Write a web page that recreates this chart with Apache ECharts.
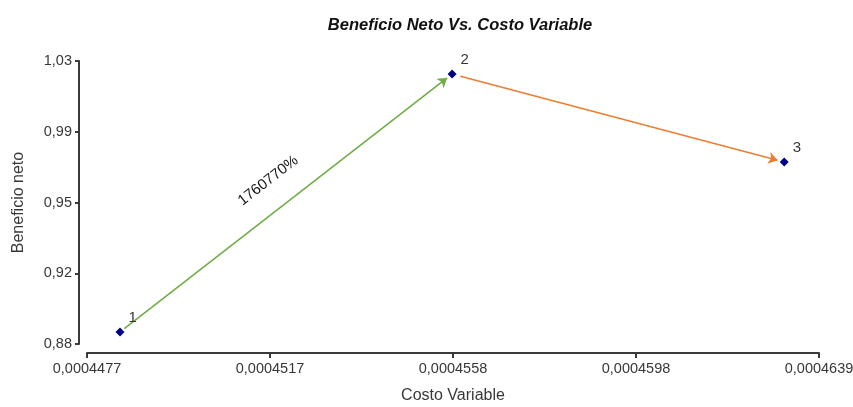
<!DOCTYPE html>
<html><head><meta charset="utf-8">
<script src="https://cdn.jsdelivr.net/npm/echarts@6/dist/echarts.min.js"></script>
<style>html,body{margin:0;padding:0;background:#fff}#c{width:853px;height:407px}</style>
</head><body><div id="c"></div>
<script>
const pointLabels = ['1', '2', '3'];
const costoVariable = [0.00044843, 0.00045578, 0.00046313];
const beneficioNeto = [0.8864, 1.0231, 0.9765];
const arrowLabels = ['1760770%', ''];
const arrowColors = ['#70AD47', '#ED7D31'];
const xTickValues = [0.0004477, 0.00045175, 0.0004558, 0.00045985, 0.0004639];
const xTickLabels = ['0,0004477', '0,0004517', '0,0004558', '0,0004598', '0,0004639'];
const yTickValues = [0.88, 0.9175, 0.955, 0.9925, 1.03];
const yTickLabels = ['0,88', '0,92', '0,95', '0,99', '1,03'];

function nearestLabel(v, vals, labels) {
  let best = 0, bd = Infinity;
  vals.forEach((t, i) => { const d = Math.abs(t - v); if (d < bd) { bd = d; best = i; } });
  return labels[best];
}

// arrow segments between consecutive points, trimmed slightly at both ends
const gapStart = [0.013, 0.025], gapEnd = [0.015, 0.02];
const arrowData = [];
for (let i = 0; i < costoVariable.length - 1; i++) {
  const x0 = costoVariable[i], y0 = beneficioNeto[i], x1 = costoVariable[i + 1], y1 = beneficioNeto[i + 1];
  const a = gapStart[i], b = 1 - gapEnd[i];
  arrowData.push({
    coords: [[x0 + (x1 - x0) * a, y0 + (y1 - y0) * a], [x0 + (x1 - x0) * b, y0 + (y1 - y0) * b]],
    lineStyle: { color: arrowColors[i] }
  });
}

const axisColor = '#3a3a3a';
const textColor = '#383838';
const font = 'Liberation Sans, Arial, sans-serif';
const chart = echarts.init(document.getElementById('c'));
chart.setOption({
  backgroundColor: '#fff',
  animation: false,
  title: {
    text: 'Beneficio Neto Vs. Costo Variable',
    left: 455, top: 12, textAlign: 'center',
    textStyle: { fontFamily: font, fontSize: 16.5, fontWeight: 'bold', fontStyle: 'italic', color: '#111' }
  },
  grid: { left: 87, right: 34, top: 61, bottom: 63, containLabel: false, outerBoundsMode: 'none' },
  xAxis: {
    type: 'value',
    min: xTickValues[0], max: xTickValues[xTickValues.length - 1],
    offset: 9,
    name: 'Costo Variable', nameLocation: 'middle', nameGap: 35,
    nameTextStyle: { fontFamily: font, fontSize: 16, color: textColor },
    axisLine: { show: true, lineStyle: { color: axisColor, width: 2 } },
    axisTick: { show: true, customValues: xTickValues, length: 5, lineStyle: { color: axisColor, width: 2 } },
    axisLabel: {
      customValues: xTickValues, margin: 8, fontFamily: font, fontSize: 14.5, color: textColor,
      formatter: v => nearestLabel(v, xTickValues, xTickLabels)
    },
    splitLine: { show: false }
  },
  yAxis: {
    type: 'value',
    min: yTickValues[0], max: yTickValues[yTickValues.length - 1],
    offset: 8,
    name: 'Beneficio neto', nameLocation: 'middle', nameGap: 52,
    nameTextStyle: { fontFamily: font, fontSize: 16, color: textColor },
    axisLine: { show: true, lineStyle: { color: axisColor, width: 2 } },
    axisTick: { show: true, customValues: yTickValues, length: 4, lineStyle: { color: axisColor, width: 2 } },
    axisLabel: {
      customValues: yTickValues, margin: 7, fontFamily: font, fontSize: 14.5, color: textColor,
      formatter: v => nearestLabel(v, yTickValues, yTickLabels)
    },
    splitLine: { show: false }
  },
  series: [
    {
      type: 'lines',
      coordinateSystem: 'cartesian2d',
      symbol: ['none', 'arrow'],
      symbolSize: 9,
      lineStyle: { width: 1.6, opacity: 1 },
      label: {
        show: true, position: 'middle', distance: 21,
        fontFamily: font, fontSize: 15, color: '#111',
        formatter: p => arrowLabels[p.dataIndex]
      },
      data: arrowData,
      z: 2
    },
    {
      type: 'scatter',
      symbol: 'diamond',
      symbolSize: 9,
      itemStyle: { color: '#00008B', opacity: 1 },
      label: {
        show: true, position: 'right', distance: 4, offset: [0, -14],
        fontFamily: font, fontSize: 15, color: textColor,
        formatter: p => pointLabels[p.dataIndex]
      },
      data: costoVariable.map((x, i) => [x, beneficioNeto[i]]),
      z: 3
    }
  ]
});
</script>
</body></html>
